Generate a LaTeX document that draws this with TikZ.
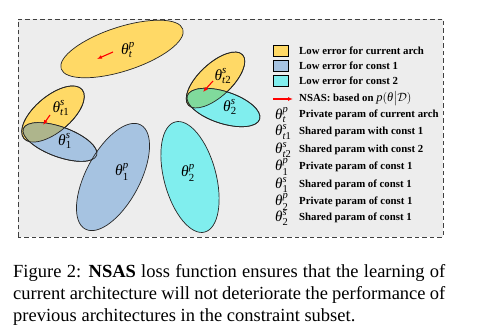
\documentclass[tikz,border=0pt]{standalone}
\usepackage{amsmath}
\usepackage{fontspec}
\setmainfont{Liberation Serif}
\usetikzlibrary{arrows.meta,positioning}
\definecolor{pozadina}{HTML}{EDEDED}
\definecolor{zuta}{HTML}{FFD966}
\definecolor{plava}{HTML}{A6C3E1}
\definecolor{tirkiz}{HTML}{80EEEE}
\definecolor{maslina}{HTML}{AEB58C}
\definecolor{zelena}{HTML}{80DA9C}
\newcommand{\tht}[2]{$\textit{θ}^{\textit{#1}}_{\text{#2}}$}
\tikzset{
  elip/.style={draw=black!85,line width=0.7pt},
  leg/.style={draw=black,line width=0.8pt,minimum width=15pt,minimum height=11pt,inner sep=0pt},
  txt/.style={anchor=west,inner sep=0pt,font=\fontsize{10.8}{12}\selectfont\bfseries},
  sym/.style={anchor=west,inner sep=0pt,font=\fontsize{15}{16}\selectfont},
  oznaka/.style={inner sep=0pt,font=\fontsize{15.5}{17}\selectfont},
  crv/.style={-{Latex[length=5pt,width=4pt]},line width=1.1pt,red},
  natpis/.style={anchor=base west,inner sep=0pt,font=\fontsize{18.5}{22}\selectfont},
}
\begin{document}
\begin{tikzpicture}[x=1pt,y=1pt]
  \useasboundingbox (0,0) rectangle (485,334);

  % ---------- OKVIR ----------
  \draw[fill=pozadina,draw=black!75,line width=0.8pt,dash pattern=on 4.5pt off 3pt]
       (18,97) rectangle (443,315);

  % ---------- ELIPSE ----------
  \draw[elip,fill=zuta,shift={(122,285)},rotate=18] (0,0) ellipse [x radius=64,y radius=22];
  \draw[elip,fill=zuta,shift={(53,220)},rotate=40] (0,0) ellipse [x radius=38,y radius=18];
  \draw[elip,fill=zuta,shift={(215.5,254)},rotate=43] (0,0) ellipse [x radius=37,y radius=16.5];
  \draw[elip,fill=plava,shift={(60,192)},rotate=-20] (0,0) ellipse [x radius=39,y radius=15];
  \draw[elip,fill=tirkiz,shift={(223.5,226.5)},rotate=-18] (0,0) ellipse [x radius=38,y radius=16];
  \draw[elip,fill=plava,shift={(113,157)},rotate=62] (0,0) ellipse [x radius=59,y radius=27];
  \draw[elip,fill=tirkiz,shift={(190,157)},rotate=-75] (0,0) ellipse [x radius=57,y radius=26];

  % ---------- PRESECI ----------
  \begin{scope}
    \clip[shift={(53,220)},rotate=40] (0,0) ellipse [x radius=38,y radius=18];
    \fill[maslina,shift={(60,192)},rotate=-20] (0,0) ellipse [x radius=39,y radius=15];
  \end{scope}
  \begin{scope}
    \clip[shift={(215.5,254)},rotate=43] (0,0) ellipse [x radius=37,y radius=16.5];
    \fill[zelena,shift={(223.5,226.5)},rotate=-18] (0,0) ellipse [x radius=38,y radius=16];
  \end{scope}
  \draw[elip,shift={(53,220)},rotate=40] (0,0) ellipse [x radius=38,y radius=18];
  \draw[elip,shift={(60,192)},rotate=-20] (0,0) ellipse [x radius=39,y radius=15];
  \draw[elip,shift={(215.5,254)},rotate=43] (0,0) ellipse [x radius=37,y radius=16.5];
  \draw[elip,shift={(223.5,226.5)},rotate=-18] (0,0) ellipse [x radius=38,y radius=16];

  % ---------- OZNAKE ----------
  \node[oznaka] (tp)  at (128,284) {\tht{p}{\textit{t}}};
  \node[oznaka] (t1s) at (61,226)  {\tht{s}{\textit{t}1}};
  \node[oznaka] (s1)  at (65,193)  {\tht{s}{1}};
  \node[oznaka] (t2s) at (223,258) {\tht{s}{\textit{t}2}};
  \node[oznaka] (s2)  at (230,227) {\tht{s}{2}};
  \node[oznaka] (p1)  at (122,162) {\tht{p}{1}};
  \node[oznaka] (p2)  at (188,161) {\tht{p}{2}};

  % ---------- STRELICE ----------
  \coordinate (tpa) at (113,282);   \coordinate (tpb) at (97,275);
  \coordinate (t1a) at (50,219);    \coordinate (t1b) at (43,209);
  \coordinate (t2a) at (213,253);   \coordinate (t2b) at (203,242);
  \draw[crv] (tpa) -- (tpb);
  \draw[crv] (t1a) -- (t1b);
  \draw[crv] (t2a) -- (t2b);

  % ---------- LEGENDA ----------
  \node[leg,fill=zuta]   (lz) at (280.5,283) {};
  \node[leg,fill=plava]  (lp) at (280.5,268) {};
  \node[leg,fill=tirkiz] (lt) at (280.5,253) {};
  \node[txt] (tz) at (299,283) {Low error for current arch};
  \node[txt] (tpl) at (299,268) {Low error for const 1};
  \node[txt] (tt) at (299,253) {Low error for const 2};
  \coordinate (la) at (273,235); \coordinate (lb) at (293,235);
  \draw[crv] (la) -- (lb);
  \node[txt] (tn) at (299,235) {NSAS: based on {\mdseries\fontsize{12.5}{13}\selectfont$\textit{p}(\textit{θ}\big|\mathcal{D})$}};

  \node[sym] (g1) at (275,219) {\tht{p}{\textit{t}}};
  \node[sym] (g2) at (275,202) {\tht{s}{\textit{t}1}};
  \node[sym] (g3) at (275,184) {\tht{s}{\textit{t}2}};
  \node[sym] (g4) at (275,167) {\tht{p}{1}};
  \node[sym] (g5) at (275,149) {\tht{s}{1}};
  \node[sym] (g6) at (275,132) {\tht{p}{2}};
  \node[sym] (g7) at (275,116) {\tht{s}{2}};
  \node[txt] (e1) at (299,219) {Private param of current arch};
  \node[txt] (e2) at (299,202) {Shared param with const 1};
  \node[txt] (e3) at (299,184) {Shared param with const 2};
  \node[txt] (e4) at (299,167) {Private param of const 1};
  \node[txt] (e5) at (299,149) {Shared param of const 1};
  \node[txt] (e6) at (299,132) {Private param of const 1};
  \node[txt] (e7) at (299,116) {Shared param of const 1};

  % ---------- NATPIS ----------
  \node[natpis] (c1) at (13,56) {\makebox[432pt][s]{Figure 2: \textbf{NSAS} loss function ensures that the learning of}};
  \node[natpis] (c2) at (13,34) {\makebox[432pt][s]{current architecture will not deteriorate the performance of}};
  \node[natpis] (c3) at (13,12) {previous architectures in the constraint subset.};

\end{tikzpicture}
\end{document}
